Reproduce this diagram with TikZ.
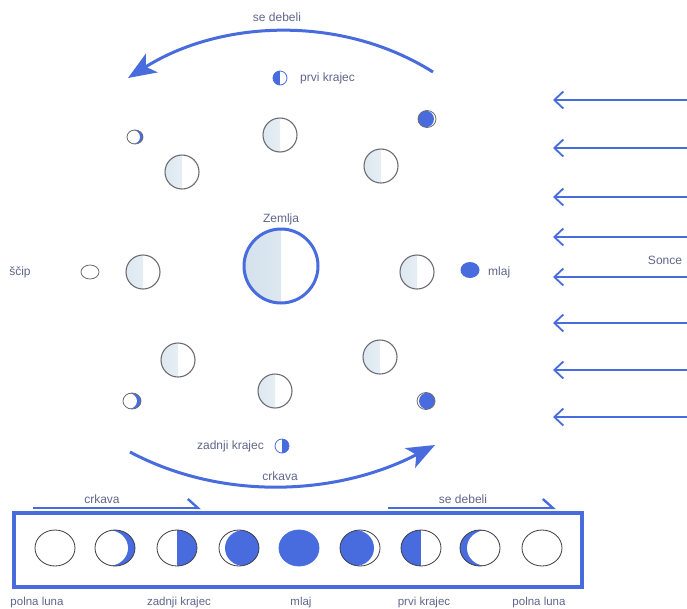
\documentclass[tikz,border=0pt]{standalone}
\usepackage{fontspec}
\setmainfont{Liberation Sans}
\usetikzlibrary{arrows.meta,shapes.geometric}

\definecolor{skyblue}{RGB}{72,108,222}
\definecolor{inkgray}{RGB}{96,102,140}
\definecolor{rimgray}{RGB}{108,108,118}
\definecolor{rimdark}{RGB}{60,60,72}
\definecolor{shadeblue}{RGB}{212,226,236}

\tikzset{
  lbl/.style={text=inkgray, font=\fontsize{12}{14}\selectfont, inner sep=0pt},
  smalllbl/.style={lbl, font=\fontsize{11.5}{13}\selectfont},
  % moons on the orbit, lit from the right
  orbitmoon/.style={ellipse, inner sep=0pt, minimum width=34pt, minimum height=34pt,
    draw=rimgray, line width=1.1pt, fill=white,
    path picture={\shade[left color=shadeblue!80, right color=shadeblue!35]
      (path picture bounding box.south west) rectangle (path picture bounding box.north);}},
  earth/.style={ellipse, inner sep=0pt, minimum width=74pt, minimum height=74pt,
    draw=skyblue, line width=3pt, fill=white,
    path picture={\shade[left color=shadeblue, right color=shadeblue!60]
      (path picture bounding box.south west) rectangle (path picture bounding box.north);}},
  % small phase discs
  disc/.style 2 args={ellipse, inner sep=0pt, minimum width=#1, minimum height=#2,
    line width=0.8pt, fill=white},
  % white body with a blue sliver: shift of the white ellipse, its radii
  sliver/.style n args={3}{fill=skyblue, path picture={\fill[white]
      (path picture bounding box.center) ++(#1,0) ellipse [x radius=#2, y radius=#3];}},
  % blue body with a white sliver
  gibbous/.style n args={3}{fill=white, path picture={\fill[skyblue]
      (path picture bounding box.center) ++(#1,0) ellipse [x radius=#2, y radius=#3];}},
  righthalf/.style={fill=white, path picture={\fill[skyblue]
      (path picture bounding box.north) rectangle (path picture bounding box.south east);}},
  lefthalf/.style={fill=white, path picture={\fill[skyblue]
      (path picture bounding box.north west) rectangle (path picture bounding box.south);}},
  orbitarrow/.style={draw=skyblue, line width=3pt,
    -{Stealth[length=28pt,width=22pt,inset=7pt]}},
  ray/.style={draw=skyblue, line width=1.8pt, -{Straight Barb[length=9pt,width=17pt]}},
  harpoonarrow/.style={draw=skyblue, line width=2.4pt,
    -{Straight Barb[left,length=10pt,width=18pt]}},
  stripbox/.style={draw=skyblue, line width=4pt, inner sep=0pt,
    minimum width=568pt, minimum height=74pt},
}

\begin{document}
\begin{tikzpicture}[x=1pt,y=-1pt]
\useasboundingbox[fill=white] (0,0) rectangle (687,608);

% ---- sunlight ----
\node[lbl] (sonce) at (665,260) {Sonce};
\foreach \k/\y in {1/100,2/148,3/197,4/237,5/277,6/323,7/370,8/417}{
  \coordinate (sunR\k) at (687,\y);
  \coordinate (sunL\k) at (553,\y);
  \draw[ray] (sunR\k) -- (sunL\k);
}

% ---- Earth and the Moon on its orbit ----
\node[earth] (zemlja) at (281,266) {};
\node[lbl] (zemljalbl) at (281,219) {Zemlja};

\node[orbitmoon] (im1) at (280,135) {};
\node[orbitmoon] (im2) at (182,172) {};
\node[orbitmoon] (im3) at (381,166) {};
\node[orbitmoon] (im4) at (143,272) {};
\node[orbitmoon] (im5) at (417,272) {};
\node[orbitmoon] (im6) at (178,360) {};
\node[orbitmoon] (im7) at (275,391) {};
\node[orbitmoon] (im8) at (380,357) {};

% ---- phases as seen from Earth ----
\node[disc={16pt}{14pt}, draw=rimgray, sliver={-3}{8}{7}] (om1) at (135,137) {};
\node[disc={18pt}{17pt}, draw=rimgray, gibbous={-2}{9}{8.5}] (om2) at (427,119) {};
\node[disc={18pt}{14pt}, draw=rimgray] (om3) at (90,272) {};
\node[disc={19pt}{16pt}, draw=none, fill=skyblue] (om4) at (470,270) {};
\node[disc={18pt}{16pt}, draw=rimgray, sliver={-4}{9}{8}] (om5) at (132,401) {};
\node[disc={18pt}{17pt}, draw=rimgray, gibbous={2}{9}{8.5}] (om6) at (426,401) {};

\node[lbl] (scip) at (20,272) {ščip};
\node[lbl, anchor=west] (mlajlbl) at (488,272) {mlaj};

\node[disc={14pt}{14pt}, draw=skyblue, lefthalf] (pk) at (280,78) {};
\node[lbl, anchor=west] (pklbl) at (300,78) {prvi krajec};
\node[disc={14pt}{14pt}, draw=skyblue, righthalf] (zk) at (282,446) {};
\node[lbl, anchor=east] (zklbl) at (264,446) {zadnji krajec};

% ---- direction of the orbit ----
\coordinate (topS) at (433,72);
\coordinate (topE) at (128,78);
\draw[orbitarrow] (topS) .. controls (341,14) and (220,20) .. (topE);
\node[lbl] (topdeb) at (277,17) {se debeli};

\coordinate (botS) at (130,452);
\coordinate (botE) at (435,445);
\draw[orbitarrow] (botS) .. controls (224,502) and (339,495) .. (botE);
\node[lbl] (botcrk) at (280,476) {crkava};

% ---- phase strip ----
\node[stripbox] (strip) at (298,550) {};

\coordinate (crkS) at (33,508);
\coordinate (crkE) at (201,508);
\draw[harpoonarrow] (crkS) -- (crkE);
\node[lbl] (crklbl) at (102,499) {crkava};

\coordinate (debS) at (388,508);
\coordinate (debE) at (556,508);
\draw[harpoonarrow] (debS) -- (debE);
\node[lbl] (deblbl) at (463,499) {se debeli};

\node[disc={40pt}{36pt}, draw=rimdark] (ph1) at (55,548) {};
\node[disc={40pt}{36pt}, draw=rimdark, sliver={-7}{20}{18}] (ph2) at (115,548) {};
\node[disc={40pt}{36pt}, draw=rimdark, righthalf] (ph3) at (177,548) {};
\node[disc={40pt}{36pt}, draw=rimdark, gibbous={5}{19}{18}] (ph4) at (239,548) {};
\node[disc={40pt}{36pt}, draw=skyblue, fill=skyblue] (ph5) at (299,548) {};
\node[disc={40pt}{36pt}, draw=rimdark, gibbous={-5}{19}{18}] (ph6) at (360,548) {};
\node[disc={40pt}{36pt}, draw=rimdark, lefthalf] (ph7) at (421,548) {};
\node[disc={40pt}{36pt}, draw=rimdark, sliver={7}{20}{18}] (ph8) at (480,548) {};
\node[disc={40pt}{36pt}, draw=rimdark] (ph9) at (542,548) {};

\node[smalllbl] (l1) at (37,603) {polna luna};
\node[smalllbl] (l2) at (179,603) {zadnji krajec};
\node[smalllbl] (l3) at (301,603) {mlaj};
\node[smalllbl] (l4) at (424,603) {prvi krajec};
\node[smalllbl] (l5) at (539,603) {polna luna};
\end{tikzpicture}
\end{document}
